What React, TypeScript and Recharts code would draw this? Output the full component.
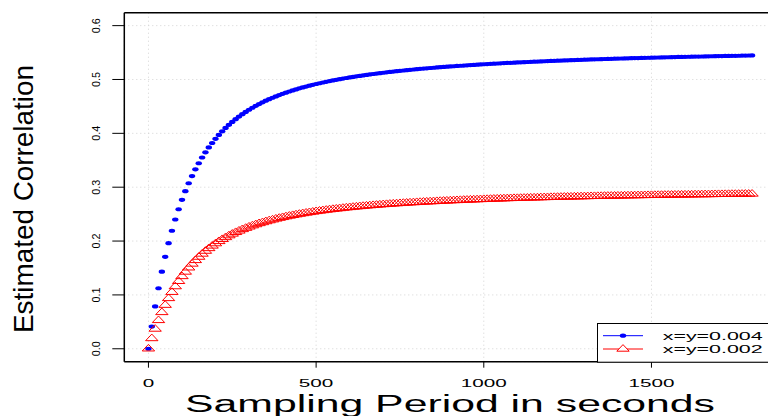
import React from 'react';
import { LineChart, Line, XAxis, YAxis, CartesianGrid, Legend, ReferenceLine } from 'recharts';

// sampling period (seconds)
const SECONDS = [
  0, 10, 20, 30, 40, 50, 60, 70, 80, 90,
  100, 110, 120, 130, 140, 150, 160, 170, 180, 190,
  200, 210, 220, 230, 240, 250, 260, 270, 280, 290,
  300, 310, 320, 330, 340, 350, 360, 370, 380, 390,
  400, 410, 420, 430, 440, 450, 460, 470, 480, 490,
  500, 510, 520, 530, 540, 550, 560, 570, 580, 590,
  600, 610, 620, 630, 640, 650, 660, 670, 680, 690,
  700, 710, 720, 730, 740, 750, 760, 770, 780, 790,
  800, 810, 820, 830, 840, 850, 860, 870, 880, 890,
  900, 910, 920, 930, 940, 950, 960, 970, 980, 990,
  1000, 1010, 1020, 1030, 1040, 1050, 1060, 1070, 1080, 1090,
  1100, 1110, 1120, 1130, 1140, 1150, 1160, 1170, 1180, 1190,
  1200, 1210, 1220, 1230, 1240, 1250, 1260, 1270, 1280, 1290,
  1300, 1310, 1320, 1330, 1340, 1350, 1360, 1370, 1380, 1390,
  1400, 1410, 1420, 1430, 1440, 1450, 1460, 1470, 1480, 1490,
  1500, 1510, 1520, 1530, 1540, 1550, 1560, 1570, 1580, 1590,
  1600, 1610, 1620, 1630, 1640, 1650, 1660, 1670, 1680, 1690,
  1700, 1710, 1720, 1730, 1740, 1750, 1760, 1770, 1780, 1790,
  1800,
];

// x=y=0.004 (blue dots)
const RHO_004 = [
  0, 0.0413, 0.0787, 0.1124, 0.1431, 0.1708, 0.1961, 0.2191, 0.24, 0.2591,
  0.2766, 0.2926, 0.3073, 0.3207, 0.3331, 0.3445, 0.3551, 0.3648, 0.3738, 0.3821,
  0.3898, 0.397, 0.4037, 0.41, 0.4158, 0.4212, 0.4263, 0.4311, 0.4356, 0.4398,
  0.4438, 0.4475, 0.4511, 0.4544, 0.4576, 0.4606, 0.4634, 0.4661, 0.4686, 0.4711,
  0.4734, 0.4756, 0.4777, 0.4797, 0.4816, 0.4835, 0.4852, 0.4869, 0.4885, 0.4901,
  0.4916, 0.493, 0.4944, 0.4957, 0.497, 0.4982, 0.4994, 0.5006, 0.5017, 0.5028,
  0.5038, 0.5048, 0.5058, 0.5067, 0.5076, 0.5085, 0.5094, 0.5102, 0.511, 0.5118,
  0.5125, 0.5133, 0.514, 0.5147, 0.5154, 0.516, 0.5167, 0.5173, 0.5179, 0.5185,
  0.5191, 0.5197, 0.5202, 0.5208, 0.5213, 0.5218, 0.5223, 0.5228, 0.5233, 0.5237,
  0.5242, 0.5246, 0.5251, 0.5255, 0.5259, 0.5263, 0.5267, 0.5271, 0.5275, 0.5279,
  0.5283, 0.5286, 0.529, 0.5293, 0.5297, 0.53, 0.5304, 0.5307, 0.531, 0.5313,
  0.5316, 0.5319, 0.5322, 0.5325, 0.5328, 0.5331, 0.5333, 0.5336, 0.5339, 0.5341,
  0.5344, 0.5346, 0.5349, 0.5351, 0.5354, 0.5356, 0.5358, 0.5361, 0.5363, 0.5365,
  0.5367, 0.537, 0.5372, 0.5374, 0.5376, 0.5378, 0.538, 0.5382, 0.5384, 0.5386,
  0.5388, 0.539, 0.5391, 0.5393, 0.5395, 0.5397, 0.5398, 0.54, 0.5402, 0.5404,
  0.5405, 0.5407, 0.5408, 0.541, 0.5412, 0.5413, 0.5415, 0.5416, 0.5418, 0.5419,
  0.5421, 0.5422, 0.5423, 0.5425, 0.5426, 0.5427, 0.5429, 0.543, 0.5431, 0.5433,
  0.5434, 0.5435, 0.5437, 0.5438, 0.5439, 0.544, 0.5441, 0.5443, 0.5444, 0.5445,
  0.5446,
];

// x=y=0.002 (red triangles)
const RHO_002 = [
  0, 0.0191, 0.0367, 0.0527, 0.0675, 0.081, 0.0935, 0.105, 0.1155, 0.1253,
  0.1343, 0.1426, 0.1504, 0.1575, 0.1641, 0.1703, 0.176, 0.1814, 0.1863, 0.191,
  0.1953, 0.1994, 0.2032, 0.2067, 0.2101, 0.2132, 0.2162, 0.2189, 0.2216, 0.224,
  0.2264, 0.2286, 0.2307, 0.2327, 0.2345, 0.2363, 0.238, 0.2396, 0.2412, 0.2426,
  0.244, 0.2454, 0.2466, 0.2478, 0.249, 0.2501, 0.2512, 0.2522, 0.2532, 0.2541,
  0.2551, 0.2559, 0.2568, 0.2576, 0.2584, 0.2591, 0.2598, 0.2605, 0.2612, 0.2619,
  0.2625, 0.2631, 0.2637, 0.2643, 0.2648, 0.2654, 0.2659, 0.2664, 0.2669, 0.2674,
  0.2679, 0.2683, 0.2688, 0.2692, 0.2696, 0.27, 0.2704, 0.2708, 0.2712, 0.2715,
  0.2719, 0.2722, 0.2726, 0.2729, 0.2732, 0.2735, 0.2738, 0.2741, 0.2744, 0.2747,
  0.275, 0.2753, 0.2755, 0.2758, 0.2761, 0.2763, 0.2766, 0.2768, 0.277, 0.2773,
  0.2775, 0.2777, 0.2779, 0.2782, 0.2784, 0.2786, 0.2788, 0.279, 0.2792, 0.2794,
  0.2795, 0.2797, 0.2799, 0.2801, 0.2803, 0.2804, 0.2806, 0.2808, 0.2809, 0.2811,
  0.2813, 0.2814, 0.2816, 0.2817, 0.2819, 0.282, 0.2821, 0.2823, 0.2824, 0.2826,
  0.2827, 0.2828, 0.283, 0.2831, 0.2832, 0.2833, 0.2835, 0.2836, 0.2837, 0.2838,
  0.2839, 0.284, 0.2842, 0.2843, 0.2844, 0.2845, 0.2846, 0.2847, 0.2848, 0.2849,
  0.285, 0.2851, 0.2852, 0.2853, 0.2854, 0.2855, 0.2856, 0.2857, 0.2858, 0.2859,
  0.2859, 0.286, 0.2861, 0.2862, 0.2863, 0.2864, 0.2864, 0.2865, 0.2866, 0.2867,
  0.2868, 0.2868, 0.2869, 0.287, 0.2871, 0.2871, 0.2872, 0.2873, 0.2874, 0.2874,
  0.2875,
];

const SERIES_NAMES = ['x=y=0.004', 'x=y=0.002'];
const X_TICKS = [0, 500, 1000, 1500];
const Y_TICKS = [0, 0.1, 0.2, 0.3, 0.4, 0.5, 0.6];

const FONT = '"Liberation Sans", Arial, Helvetica, sans-serif';
const BLUE = '#0000ff';
const RED = '#ff0000';

const data = SECONDS.map((t, i) => ({ t, a: RHO_004[i], b: RHO_002[i] }));

const BlueDot = (p: any) => {
  if (p.cx == null || p.cy == null) return <g key={`a${p.index}`} />;
  return <ellipse key={`a${p.index}`} cx={p.cx} cy={p.cy} rx={3.2} ry={2.1} fill={BLUE} />;
};

const triPoints = (cx: number, cy: number) =>
  `${cx},${cy - 4.4} ${cx + 6.2},${cy + 2.2} ${cx - 6.2},${cy + 2.2}`;

const RedTriangle = (p: any) => {
  if (p.cx == null || p.cy == null) return <g key={`b${p.index}`} />;
  return (
    <polygon key={`b${p.index}`} points={triPoints(p.cx, p.cy)} fill="none" stroke={RED} strokeWidth={1} />
  );
};

const XTick = (p: any) => {
  const s = String(p.payload.value);
  return (
    <text x={p.x} y={386.5} textAnchor="middle" fontSize={11} fontFamily={FONT} fill="#000"
      textLength={11.5 * s.length} lengthAdjust="spacingAndGlyphs">
      {s}
    </text>
  );
};

const YTick = (p: any) => {
  const s = Number(p.payload.value).toFixed(1);
  return (
    <text x={100} y={p.y} transform={`rotate(-90 100 ${p.y})`} textAnchor="middle" fontSize={10}
      fontFamily={FONT} fill="#000" textLength={15} lengthAdjust="spacingAndGlyphs">
      {s}
    </text>
  );
};

const YLabel = () => (
  <text x={33} y={199} transform="rotate(-90 33 199)" textAnchor="middle" fontSize={28}
    fontFamily={FONT} fill="#000" textLength={268} lengthAdjust="spacingAndGlyphs">
    Estimated Correlation
  </text>
);

const XLabel = () => (
  <text x={450} y={411.5} textAnchor="middle" fontSize={23} fontFamily={FONT} fill="#000"
    textLength={530} lengthAdjust="spacingAndGlyphs">
    Sampling Period in seconds
  </text>
);

const LegendBox = () => (
  <svg width={190} height={42} style={{ display: 'block' }}>
    <rect x={0.5} y={0.5} width={185} height={38.7} fill="#fff" stroke="#000" strokeWidth={1} />
    <line x1={6} x2={46} y1={12.7} y2={12.7} stroke={BLUE} strokeWidth={1} />
    <ellipse cx={26} cy={12.7} rx={3.2} ry={2.1} fill={BLUE} />
    <text x={65.7} y={17} fontSize={11.5} fontFamily={FONT} fill="#000" textLength={100}
      lengthAdjust="spacingAndGlyphs">
      {SERIES_NAMES[0]}
    </text>
    <line x1={6} x2={46} y1={26} y2={26} stroke={RED} strokeWidth={1} />
    <polygon points={triPoints(26, 26)} fill="#fff" stroke={RED} strokeWidth={1} />
    <text x={65.7} y={30.3} fontSize={11.5} fontFamily={FONT} fill="#000" textLength={100}
      lengthAdjust="spacingAndGlyphs">
      {SERIES_NAMES[1]}
    </text>
  </svg>
);

export default function App() {
  return (
    <div style={{ position: 'absolute', left: 0, top: 0, width: 768, height: 416, overflow: 'hidden', background: '#fff' }}>
      <LineChart width={790} height={416} data={data} margin={{ top: 12.7, right: 13.8, left: 0, bottom: 0 }}>
        <CartesianGrid stroke="#d3d3d3" strokeDasharray="1 3" />
        <XAxis
          type="number"
          dataKey="t"
          domain={[-72, 1872]}
          allowDataOverflow
          ticks={X_TICKS}
          tickSize={6}
          height={54.3}
          axisLine={{ stroke: '#000', strokeWidth: 1.5 }}
          tickLine={{ stroke: '#000', strokeWidth: 1 }}
          tick={<XTick />}
          label={{ content: () => <XLabel /> }}
        />
        <YAxis
          type="number"
          domain={[-0.024, 0.624]}
          allowDataOverflow
          ticks={Y_TICKS}
          tickSize={12}
          width={124.3}
          axisLine={{ stroke: '#000', strokeWidth: 1.5 }}
          tickLine={{ stroke: '#000', strokeWidth: 1 }}
          tick={<YTick />}
          label={{ content: () => <YLabel /> }}
        />
        <ReferenceLine y={0.624} stroke="#000" strokeWidth={1.5} ifOverflow="visible" />
        <Line
          name={SERIES_NAMES[0]}
          dataKey="a"
          stroke="none"
          dot={BlueDot}
          activeDot={false}
          isAnimationActive={false}
        />
        <Line
          name={SERIES_NAMES[1]}
          dataKey="b"
          stroke="none"
          dot={RedTriangle}
          activeDot={false}
          isAnimationActive={false}
        />
        <Legend
          layout="vertical"
          align="center"
          verticalAlign="middle"
          content={() => <LegendBox />}
          wrapperStyle={{ position: 'absolute', left: 597, top: 323, width: 190, height: 42 }}
        />
      </LineChart>
    </div>
  );
}
